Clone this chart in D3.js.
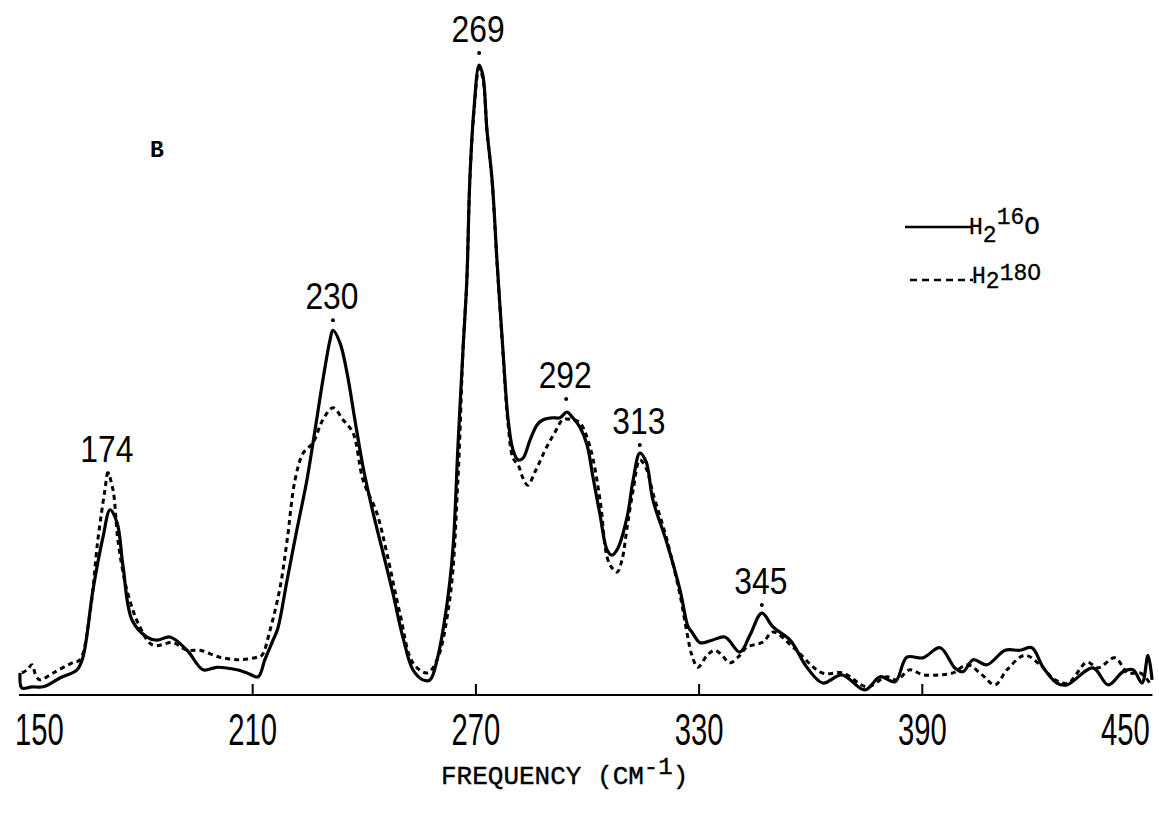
<!DOCTYPE html>
<html>
<head>
<meta charset="utf-8">
<script src="https://cdn.jsdelivr.net/npm/d3@7"></script>
<style>
  body { margin: 0; background: #fff; }
  svg { display: block; }
</style>
</head>
<body>
<svg id="chart" width="1159" height="822"></svg>
<script>
// H2 16O spectrum (solid)
var freqSolid = [147.6,148.1,150.8,153.8,158.3,162.9,164.5,167.2,169.9,171.8,173.7,175.3,177.7,181.7,184.4,187.9,192.5,196.8,200.5,205.9,
  208.6,211.6,213.4,215.6,216.9,219.4,222.0,224.7,226.9,229.0,230.9,231.7,233.6,235.5,237.6,239.8,242.5,245.2,247.8,250.5,
  253.2,255.9,257.8,259.7,262.4,264.0,265.3,266.7,267.7,268.5,269.6,271.0,272.0,273.1,274.5,275.8,277.4,278.8,280.1,281.5,
  282.8,284.7,286.6,288.2,290.6,292.7,294.6,296.2,298.1,300.0,301.6,303.5,305.4,306.7,308.3,310.8,312.4,314.2,315.9,317.7,
  321.5,325.0,327.2,328.2,330.4,333.6,337.1,341.1,343.8,347.0,350.0,354.6,359.1,363.4,368.5,374.7,378.8,382.8,386.0,390.3,
  394.9,398.9,401.1,403.8,407.5,412.4,416.4,419.6,422.6,426.3,429.0,436.0,440.1,444.1,446.8,449.2,450.8,451.9];
var valSolid = [3.5,1.1,1.3,1.3,2.7,4.0,6.0,16.7,25.1,29.4,27.3,20.3,11.9,9.2,8.7,9.2,7.1,4.0,4.4,4.0,
  3.5,2.9,5.6,8.7,10.6,18.3,26.2,34.1,42.1,50.0,56.3,57.9,55.9,51.1,43.7,36.2,28.9,22.5,16.2,9.2,
  4.0,2.4,2.4,5.6,14.6,23.5,39.4,55.2,65.9,81.7,92.9,100.0,98.4,89.7,81.7,69.0,54.8,43.7,38.9,37.3,
  37.6,40.5,42.9,43.7,44.0,44.0,44.9,44.0,42.5,39.7,34.6,28.6,23.0,22.2,23.3,28.3,34.1,38.4,37.0,31.0,
  24.1,16.7,10.8,10.0,8.3,8.7,9.2,6.8,9.5,13.0,10.8,8.7,4.4,1.9,3.2,0.8,2.9,2.1,6.0,5.9,
  7.5,4.3,3.7,5.6,4.8,7.1,7.1,7.5,4.4,1.9,1.6,4.3,1.6,3.7,4.0,1.9,6.3,2.4];

// H2 18O spectrum (dashed)
var freqDashed = [148.1,149.5,150.8,151.9,153.0,156.5,161.6,163.7,166.4,168.5,170.4,171.2,172.6,173.9,176.3,179.8,183.3,188.7,192.5,196.0,
  201.3,206.7,211.3,212.6,214.8,217.5,219.4,221.5,223.7,226.3,229.0,231.7,234.4,237.1,239.8,243.5,246.2,249.7,253.2,257.0,
  259.7,263.2,265.3,266.7,267.7,268.5,269.6,271.0,272.0,273.1,274.5,275.8,277.4,278.8,280.1,281.5,282.8,284.1,286.0,289.2,
  291.4,293.5,296.0,298.1,300.8,303.5,305.4,306.7,308.1,309.4,310.8,312.4,314.2,315.9,317.7,321.5,325.0,326.9,328.2,329.8,
  332.3,334.4,336.3,338.4,341.1,343.0,347.3,350.0,355.4,363.2,368.8,375.3,380.6,383.3,386.8,390.3,394.9,398.4,402.2,406.2,
  409.7,412.9,417.7,421.8,425.8,429.3,434.4,437.4,441.9,445.4,448.7,451.3];
var valDashed = [3.5,4.0,4.8,3.0,2.4,3.5,5.1,5.6,13.0,24.6,32.5,35.2,32.5,24.6,16.7,10.8,7.9,8.3,7.1,7.1,
  6.0,5.6,6.0,6.3,10.3,17.1,24.6,34.1,38.4,40.0,43.7,45.6,43.7,41.6,34.1,28.9,22.5,13.0,5.1,3.5,
  5.6,15.6,34.1,55.2,65.9,81.7,92.5,99.5,97.9,89.7,81.4,68.7,54.4,42.9,37.6,36.5,34.4,33.3,35.4,39.4,
  41.7,43.7,43.7,43.2,39.4,31.0,21.9,20.2,19.5,21.4,26.7,32.5,37.3,36.0,32.1,24.6,15.9,9.8,6.3,4.4,
  6.3,7.1,6.3,5.1,6.3,7.6,8.4,10.0,7.6,3.5,3.5,1.3,2.9,2.4,4.0,3.2,3.2,3.5,4.8,3.2,
  1.6,4.0,6.3,4.8,2.4,1.9,5.2,4.3,5.9,3.5,3.5,1.9];

// peak annotations
var peakLabels = ["174","230","269","292","313","345"];
var peakFreqs = [171.2,231.7,271.0,294.4,314.2,347.0];
var peakLevels = [35.2,59.5,101.9,47.0,39.7,14.3];

var tickValues = [150,210,270,330,390,450];
var seriesNames = ["16", "18"];

var svg = d3.select("#chart");
svg.append("rect").attr("width", 1159).attr("height", 822).attr("fill", "#fff");

var x = d3.scaleLinear().domain([150, 450]).range([29, 1145]);
var y = d3.scaleLinear().domain([0, 100]).range([695, 65]);

var solid = freqSolid.map(function(f, i) { return [f, valSolid[i]]; });
var dashed = freqDashed.map(function(f, i) { return [f, valDashed[i]]; });

var line = d3.line()
  .x(function(d) { return x(d[0]); })
  .y(function(d) { return y(d[1]); })
  .curve(d3.curveCatmullRom.alpha(0.5));

var narrow = "'Liberation Sans Narrow', 'Liberation Sans', sans-serif";
var mono = "'Liberation Mono', 'DejaVu Sans Mono', monospace";

// axis
var axisG = svg.append("g").attr("transform", "translate(0," + y(0) + ")");
axisG.call(d3.axisBottom(x).tickValues(tickValues).tickSizeInner(-11).tickSizeOuter(0).tickFormat(d3.format("d")));
axisG.select(".domain").remove();
axisG.append("line")
  .attr("x1", x(147.3)).attr("x2", x(452))
  .attr("stroke", "#000").attr("stroke-width", 2.2);
axisG.selectAll(".tick line")
  .attr("stroke", "#000").attr("stroke-width", 2)
  .filter(function(d) { return d == 150 || d == 450; }).remove();
// condensed look: squeeze the labels horizontally
axisG.selectAll(".tick text")
  .attr("x", 0).attr("y", 0).attr("dy", 0)
  .attr("transform", function(d) {
    var shift = d == 150 ? 10 : (d == 450 ? -20 : 0);
    return "translate(" + shift + ",50) scale(0.65,1)";
  })
  .attr("fill", "#000")
  .style("font-family", narrow)
  .style("font-size", "45px");

// traces
svg.append("path").datum(dashed)
  .attr("d", line).attr("fill", "none")
  .attr("stroke", "#000").attr("stroke-width", 3)
  .attr("stroke-dasharray", "5,4");
svg.append("path").datum(solid)
  .attr("d", line).attr("fill", "none")
  .attr("stroke", "#000").attr("stroke-width", 3.2)
  .attr("stroke-linejoin", "round");

// peak labels and dots
var peaks = svg.append("g");
peakLabels.forEach(function(lab, i) {
  var px = x(peakFreqs[i]), py = y(peakLevels[i]);
  peaks.append("circle").attr("cx", px).attr("cy", py).attr("r", 2).attr("fill", "#000");
  peaks.append("text")
    .attr("transform", "translate(" + (px - 1) + "," + (py - 11) + ") scale(0.86,1)")
    .attr("text-anchor", "middle")
    .style("font-family", narrow)
    .style("font-size", "37px")
    .text(lab);
});

// panel letter
svg.append("text").attr("x", 150).attr("y", 157)
  .style("font-family", mono).style("font-size", "23px").style("font-weight", "bold")
  .text("B");

// x axis title
var xt = svg.append("text").attr("x", 441).attr("y", 784)
  .style("font-family", mono).style("font-size", "26px")
  .style("stroke", "#000").style("stroke-width", 0.4);
xt.append("tspan").text("FREQUENCY (CM");
xt.append("tspan").attr("dy", -10).style("font-size", "24px").text("-1");
xt.append("tspan").attr("dy", 10).text(")");

// legend
var legend = svg.append("g")
  .style("font-family", mono).style("stroke", "#000").style("stroke-width", 0.3);
legend.append("line").attr("x1", 905).attr("x2", 971).attr("y1", 227).attr("y2", 227)
  .attr("stroke", "#000").attr("stroke-width", 2.4);
var l1 = legend.append("text").attr("x", 969).attr("y", 234).style("font-size", "23px");
l1.append("tspan").text("H");
l1.append("tspan").attr("dy", 8).text("2");
l1.append("tspan").attr("dy", -18).text(seriesNames[0]);
l1.append("tspan").attr("dy", 10).style("font-size", "26px").text("O");

legend.append("line").attr("x1", 910).attr("x2", 973).attr("y1", 280).attr("y2", 280)
  .attr("stroke", "#000").attr("stroke-width", 2.4).attr("stroke-dasharray", "7,5");
var l2 = legend.append("text").attr("x", 972).attr("y", 283).style("font-size", "23px");
l2.append("tspan").text("H");
l2.append("tspan").attr("dy", 5).text("2");
l2.append("tspan").attr("dy", -8).text(seriesNames[1] + "O");
</script>
</body>
</html>
